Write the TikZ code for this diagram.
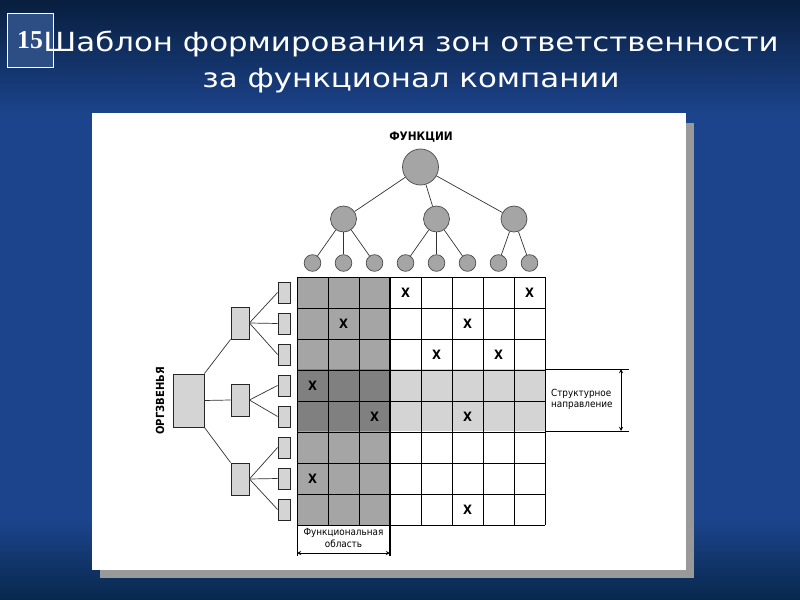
\documentclass[tikz,border=0pt]{standalone}
\usepackage{fontspec}
\setmainfont{DejaVu Sans}
\newfontfamily\titlefont[FakeStretch=1.17]{DejaVu Sans}
\newfontfamily\cond{DejaVu Sans Condensed}
\newfontfamily\ser{Liberation Serif}
\definecolor{bgtop}{RGB}{8,30,62}
\definecolor{bgmid}{RGB}{28,68,140}
\definecolor{bgbot}{RGB}{8,40,76}
\definecolor{numbox}{RGB}{44,78,132}
\definecolor{cgray}{RGB}{165,165,165}
\definecolor{cdark}{RGB}{128,128,128}
\definecolor{clight}{RGB}{212,212,212}

\begin{document}
\begin{tikzpicture}[x=0.3mm,y=-0.3mm,>=stealth,
    fnode/.style={circle,draw=black!70,fill=cgray,line width=0.6pt,inner sep=0pt},
    onode/.style={rectangle,draw=black!85,fill=clight,line width=0.7pt,inner sep=0pt},
    link/.style={draw=black!80,line width=0.6pt},
    xmark/.style={font=\cond\bfseries\fontsize{11}{11}\selectfont},
    small/.style={font=\cond\fontsize{8.4}{9.5}\selectfont}]
        % фон слайда
        \useasboundingbox (0,0) rectangle (800,600);
        \fill[bgmid] (0,0) rectangle (800,600);
        \shade[top color=bgtop, bottom color=bgmid] (0,0) rectangle (800,115);
        \shade[top color=bgmid, bottom color=bgbot] (0,520) rectangle (800,600);
        \node[draw=white, fill=numbox, minimum width=13.8mm, minimum height=16.2mm,
            inner sep=0pt, text=white, font=\ser\bfseries\fontsize{22}{22}\selectfont] (num) at (30,40) {15};
        \node[text=white, align=center, font=\titlefont\fontsize{22.5}{30.5}\selectfont] (title) at (411,62)
            {Шаблон формирования зон ответственности\\за функционал компании};

        % белая панель с тенью
        \fill[black!40] (100,123) rectangle (694,578);
        \fill[white] (92,113) rectangle (686,570);

        % заливка матрицы
        \fill[cgray] (297,277) rectangle (390,525);
        \fill[cdark] (297,369) rectangle (390,431);
        \fill[clight] (390,369) rectangle (545,431);
        \foreach \i in {0,...,8} {
            \draw[line width=0.75pt] (297+31*\i,277) -- (297+31*\i,525);
            \draw[line width=0.75pt] (297,277+31*\i) -- (545,277+31*\i);
        }
        \draw[line width=1.5pt] (390,277) -- (390,556);
        \draw[line width=0.75pt] (297,525) -- (297,556);
        \foreach \c/\r in {4/1,8/1,2/2,6/2,5/3,7/3,1/4,3/5,6/5,1/7,6/8}
            \node[xmark] (x\c\r) at (281.5+31*\c,261.5+31*\r) {X};

        % дерево функций
        \node[font=\cond\bfseries\fontsize{10}{10}\selectfont] (fn) at (421,137) {ФУНКЦИИ};
        \node[fnode, minimum size=10.8mm] (r0) at (420.5,167) {};
        \node[fnode, minimum size=7.8mm] (f1) at (343.5,219) {};
        \node[fnode, minimum size=7.8mm] (f2) at (436.5,219) {};
        \node[fnode, minimum size=7.8mm] (f3) at (514,219) {};
        \foreach \i in {1,...,8}
            \node[fnode, minimum size=5mm] (l\i) at (281.5+31*\i,263) {};
        \draw[link] (r0) -- (f1);
        \draw[link] (r0) -- (f2);
        \draw[link] (r0) -- (f3);
        \foreach \i in {1,2,3} \draw[link] (f1) -- (l\i);
        \foreach \i in {4,5,6} \draw[link] (f2) -- (l\i);
        \foreach \i in {7,8} \draw[link] (f3) -- (l\i);

        % дерево оргзвеньев
        \node[rotate=90, font=\cond\bfseries\fontsize{9.5}{10}\selectfont] (oz) at (160,401) {ОРГЗВЕНЬЯ};
        \node[onode, minimum width=9.3mm, minimum height=15.9mm] (org) at (188.5,400.5) {};
        \node[onode, minimum width=5.4mm, minimum height=9.6mm] (g1) at (240,323) {};
        \node[onode, minimum width=5.4mm, minimum height=9.6mm] (g2) at (240,400) {};
        \node[onode, minimum width=5.4mm, minimum height=9.6mm] (g3) at (240,479) {};
        \foreach \i in {1,...,8}
            \node[onode, minimum width=3.6mm, minimum height=6.3mm] (s\i) at (284,261.5+31*\i) {};
        \draw[link] (org.north east) -- (g1.south west);
        \draw[link] (org.east) -- (g2.west);
        \draw[link] (org.south east) -- (g3.north west);
        \foreach \i in {1,2,3} \draw[link] (g1.east) -- (s\i.west);
        \foreach \i in {4,5} \draw[link] (g2.east) -- (s\i.west);
        \foreach \i in {6,7,8} \draw[link] (g3.east) -- (s\i.west);

        % структурное направление
        \coordinate (sa) at (545,369);
        \coordinate (sb) at (629,369);
        \coordinate (sc) at (545,431);
        \coordinate (sd) at (629,431);
        \coordinate (su) at (621,369);
        \coordinate (sv) at (621,431);
        \draw[line width=0.75pt] (sa) -- (sb);
        \draw[line width=0.75pt] (sc) -- (sd);
        \draw[<->, line width=0.6pt] (su) -- (sv);
        \node[small, align=left, anchor=west] (sn) at (547,399) {Структурное\\направление};

        % функциональная область
        \coordinate (fa1) at (297,553);
        \coordinate (fa2) at (390,553);
        \draw[<->, line width=0.6pt] (fa1) -- (fa2);
        \node[small, align=center] (fa) at (343.5,538) {Функциональная\\область};
    \end{tikzpicture}
\end{document}
